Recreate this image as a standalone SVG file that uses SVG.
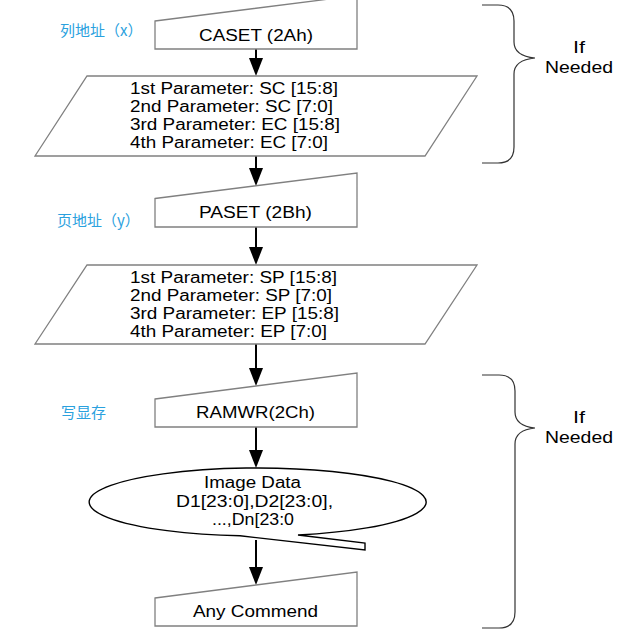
<svg xmlns="http://www.w3.org/2000/svg" width="618" height="634" viewBox="0 0 618 634">
<style>
.box{fill:#fff;stroke:#808080;stroke-width:1.3}
.para{fill:#fff;stroke:#808080;stroke-width:1.3}
.t{font-family:"Liberation Sans",Arial,sans-serif;font-size:16px;fill:#000}
.c{text-anchor:middle}
.cn{font-family:"Noto Sans CJK SC","Noto Sans",sans-serif;font-size:15px;fill:#2aa1de}
.brace{fill:none;stroke:#333;stroke-width:1.2}
.edge{stroke:#000;stroke-width:2;fill:none}
</style>
<defs>
<marker id="ah" markerUnits="userSpaceOnUse" markerWidth="18" markerHeight="14" refX="15" refY="7" orient="auto" viewBox="0 0 18 14">
<path d="M0,0 L18,7 L0,14 Z" fill="#000"/>
</marker>
</defs>
<rect width="618" height="634" fill="#fff"/>

<g id="connectors">
<line class="edge" x1="256" y1="49" x2="256" y2="73" marker-end="url(#ah)"/>
<line class="edge" x1="256" y1="156" x2="256" y2="183" marker-end="url(#ah)"/>
<line class="edge" x1="256" y1="227" x2="256" y2="262" marker-end="url(#ah)"/>
<line class="edge" x1="256" y1="344" x2="256" y2="383" marker-end="url(#ah)"/>
<line class="edge" x1="256" y1="427" x2="256" y2="465" marker-end="url(#ah)"/>
<line class="edge" x1="256" y1="540" x2="256" y2="582" marker-end="url(#ah)"/>
</g>

<g id="label-caset">
<text class="cn" x="60" y="36">列地址（x）</text>
</g>
<g id="label-paset">
<text class="cn" x="57" y="226">页地址（y）</text>
</g>
<g id="label-ramwr">
<text class="cn" x="61" y="418">写显存</text>
</g>

<g id="caset">
<polygon class="box" points="155,21 357,-4.5 357,49 155,49"/>
<text class="t" x="199" y="41" textLength="114" lengthAdjust="spacingAndGlyphs">CASET (2Ah)</text>
</g>

<g id="params-col">
<polygon class="para" points="87,76 477,76 425,156 35,156"/>
<text class="t" x="130" y="94" textLength="208" lengthAdjust="spacingAndGlyphs">1st Parameter: SC [15:8]</text>
<text class="t" x="130" y="112" textLength="203" lengthAdjust="spacingAndGlyphs">2nd Parameter: SC [7:0]</text>
<text class="t" x="130" y="130" textLength="210" lengthAdjust="spacingAndGlyphs">3rd Parameter: EC [15:8]</text>
<text class="t" x="130" y="148" textLength="198" lengthAdjust="spacingAndGlyphs">4th Parameter: EC [7:0]</text>
</g>

<g id="paset">
<polygon class="box" points="155,198.5 357,173 357,227 155,227"/>
<text class="t" x="199" y="218" textLength="113" lengthAdjust="spacingAndGlyphs">PASET (2Bh)</text>
</g>

<g id="params-page">
<polygon class="para" points="87,265 477,265 425,344 35,344"/>
<text class="t" x="130" y="283" textLength="207" lengthAdjust="spacingAndGlyphs">1st Parameter: SP [15:8]</text>
<text class="t" x="130" y="301" textLength="202" lengthAdjust="spacingAndGlyphs">2nd Parameter: SP [7:0]</text>
<text class="t" x="130" y="319" textLength="209" lengthAdjust="spacingAndGlyphs">3rd Parameter: EP [15:8]</text>
<text class="t" x="130" y="337" textLength="197" lengthAdjust="spacingAndGlyphs">4th Parameter: EP [7:0]</text>
</g>

<g id="ramwr">
<polygon class="box" points="155,399 357,373 357,427 155,427"/>
<text class="t" x="196" y="418" textLength="119" lengthAdjust="spacingAndGlyphs">RAMWR(2Ch)</text>
</g>

<g id="image-data">
<path d="M298,535 A168.5,34 0 1 0 240,535.8 L365,550 L365,543 Z" fill="#fff" stroke="#000" stroke-width="1.4" stroke-linejoin="miter"/>
<text class="t" x="204" y="488" textLength="97" lengthAdjust="spacingAndGlyphs">Image Data</text>
<text class="t" x="176" y="507" textLength="157" lengthAdjust="spacingAndGlyphs">D1[23:0],D2[23:0],</text>
<text class="t" x="212" y="525" textLength="82" lengthAdjust="spacingAndGlyphs">...,Dn[23:0</text>
</g>

<g id="any-commend">
<polygon class="box" points="155,598 357,572 357,626 155,626"/>
<text class="t" x="193" y="617" textLength="125" lengthAdjust="spacingAndGlyphs">Any Commend</text>
</g>

<g id="brace-top">
<path class="brace" d="M482,5 L498,5 Q514,5 514,21 L514,42 Q514,56 535,58 Q514,60 514,74 L514,147 Q514,163 498,163 L482,163"/>
<text class="t c" x="579" y="53" textLength="12" lengthAdjust="spacingAndGlyphs">If</text>
<text class="t c" x="579" y="73" textLength="68" lengthAdjust="spacingAndGlyphs">Needed</text>
</g>

<g id="brace-bottom">
<path class="brace" d="M482,375 L499,375 Q515,375 515,391 L515,412 Q515,426 535,428 Q515,430 515,444 L515,612 Q515,628 499,628 L482,628"/>
<text class="t c" x="579" y="423" textLength="12" lengthAdjust="spacingAndGlyphs">If</text>
<text class="t c" x="579" y="443" textLength="68" lengthAdjust="spacingAndGlyphs">Needed</text>
</g>
</svg>
